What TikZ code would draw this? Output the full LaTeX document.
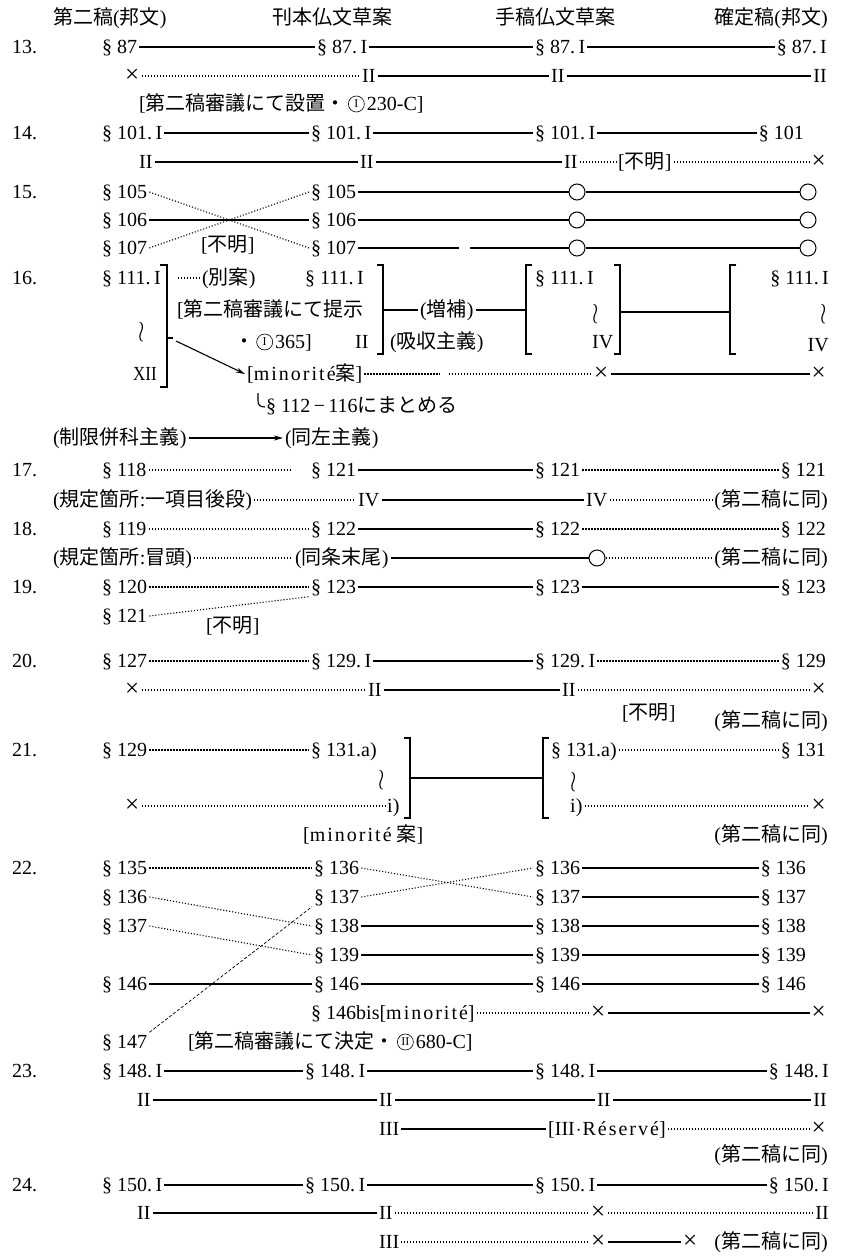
\documentclass[tikz,border=0pt]{standalone}
\usepackage{fontspec}
\setmainfont{Liberation Serif}
\newfontfamily\jp{Noto Sans CJK JP}
\newfontfamily\ls[LetterSpace=10]{Liberation Serif}
\usetikzlibrary{calc,arrows.meta}
\newcommand\fs{\fontsize{20}{24}\selectfont}
\newcommand\J[1]{{\jp #1}}
\newcommand\Sc{\makebox[15pt][l]{§}}
\newcommand\X{{\fontsize{25}{25}\selectfont ×}}
\newcommand\wv{\raisebox{-1.5pt}{\scalebox{1.1}[1.4]{$\wr$}}}
\begin{document}
\begin{tikzpicture}[x=1pt,y=-1pt,
 T/.style={anchor=west,inner sep=2pt,font=\fs,text height=14pt,text depth=1pt},
 TR/.style={T,anchor=east},
 W/.style={anchor=center,inner sep=0pt,font=\fs},
 sl/.style={line width=1.1pt},
 dl/.style={line width=1.1pt,dash pattern=on 1.1pt off 1.9pt},
 ds/.style={line width=0.7pt,dash pattern=on 3pt off 2pt},
 ox/.style={circle,draw,line width=1pt,minimum size=16pt,inner sep=0pt},
 cc/.style={circle,draw,line width=0.6pt,inner sep=0.3pt,minimum size=16pt,anchor=west,font=\fontsize{12}{12}\selectfont},
 br/.style={line width=1.1pt}]
\useasboundingbox (0,0) rectangle (841,1258);
% headers
\node[T] (h1) at (51,18) {\J{第二稿}(\J{邦文})};
\node[T] (h2) at (270,18) {\J{刊本仏文草案}};
\node[T] (h3) at (493,18) {\J{手稿仏文草案}};
\node[TR] (h4) at (830,18) {\J{確定稿}(\J{邦文})};
% 13
\node[T] (n13) at (10,47) {13.};
\node[T] (a13) at (100,47) {\Sc87};
\node[T] (b13) at (315,47) {\Sc87.\,I};
\node[T] (c13) at (533,47) {\Sc87.\,I};
\node[TR] (d13) at (829,47) {\Sc87.\,I};
\draw[sl] (a13) -- (b13); \draw[sl] (b13) -- (c13); \draw[sl] (c13) -- (d13);
\node[T] (a13b) at (123,76) {\X};
\node[T] (b13b) at (360,76) {II};
\node[T] (c13b) at (549,76) {II};
\node[TR] (d13b) at (829,76) {II};
\draw[dl] (a13b) -- (b13b); \draw[sl] (b13b) -- (c13b); \draw[sl] (c13b) -- (d13b);
\node[T] (k13a) at (137,104) {[\J{第二稿審議にて設置・}};
\node[cc] (k13b) at (k13a.east) {I};
\node[T] (k13c) at (k13b.east) {230-C]};
% 14
\node[T] (n14) at (10,133) {14.};
\node[T] (a14) at (100,133) {\Sc101.\,I};
\node[T] (b14) at (309,133) {\Sc101.\,I};
\node[T] (c14) at (533,133) {\Sc101.\,I};
\node[TR] (d14) at (806,133) {\Sc101};
\draw[sl] (a14) -- (b14); \draw[sl] (b14) -- (c14); \draw[sl] (c14) -- (d14);
\node[T] (a14b) at (137,162) {II};
\node[T] (b14b) at (358,162) {II};
\node[T] (c14b) at (562,162) {II};
\node[T] (u14) at (616,162) {[\J{不明}]};
\node[TR] (d14b) at (828,162) {\X};
\draw[sl] (a14b) -- (b14b); \draw[sl] (b14b) -- (c14b); \draw[dl] (c14b) -- (u14); \draw[dl] (u14) -- (d14b);
% 15
\node[T] (n15) at (10,192) {15.};
\node[T] (a15a) at (100,192) {\Sc105};
\node[T] (a15b) at (100,220) {\Sc106};
\node[T] (a15c) at (100,248) {\Sc107};
\node[T] (b15a) at (309,192) {\Sc105};
\node[T] (b15b) at (309,220) {\Sc106};
\node[T] (b15c) at (309,248) {\Sc107};
\node[ox] (c15a) at (577,192) {};
\node[ox] (c15b) at (577,220) {};
\node[ox] (c15c) at (577,248) {};
\node[ox] (d15a) at (808,192) {};
\node[ox] (d15b) at (808,220) {};
\node[ox] (d15c) at (808,248) {};
\node[T] (u15) at (199,245) {[\J{不明}]};
\draw[dl] (a15a.east) -- (b15c.west);
\draw[dl] (a15c.east) -- (b15a.west);
\draw[sl] (a15b) -- (b15b);
\draw[sl] (b15a) -- (c15a); \draw[sl] (c15a) -- (d15a);
\draw[sl] (b15b) -- (c15b); \draw[sl] (c15b) -- (d15b);
\draw[sl] (b15c.east) -- ($(b15c.east)!0.48!(c15c.west)$);
\draw[sl] ($(b15c.east)!0.53!(c15c.west)$) -- (c15c.west);
\draw[sl] (c15c) -- (d15c);
% 16
\node[T] (n16) at (10,278) {16.};
\node[T] (a16) at (100,278) {\Sc111.\,I};
\node[W] (a16w) at (142,332) {\wv};
\node[T] (a16x) at (131,374) {\scalebox{0.85}[1]{XII}};
\draw[br] (160,265) -- (167,265) -- (167,387) -- (160,387);
\draw[br] (167,338) -- (173,338);
\coordinate (a16d) at (178,278);
\node[T] (a16alt) at (200,278) {(\J{別案})};
\draw[dl] (a16d) -- (a16alt);
\node[T] (k16a) at (175,310) {[\J{第二稿審議にて提示}};
\node[T] (k16b) at (232,342) {\J{・}};
\node[cc] (k16c) at (k16b.east) {I};
\node[T] (k16d) at (k16c.east) {365]};
\node[T] (b16) at (303,278) {\Sc111.\,I};
\node[T] (b16x) at (353,342) {II};
\draw[br] (377,265) -- (383,265) -- (383,354) -- (377,354);
\coordinate (b16m) at (383,310);
\node[T] (b16aug) at (418,310) {(\J{増補})};
\node[T] (b16abs) at (388,342) {(\J{吸収主義})};
\draw[br] (532,265) -- (526,265) -- (526,354) -- (532,354);
\coordinate (c16m) at (526,310);
\draw[sl] (b16m) -- (b16aug); \draw[sl] (b16aug) -- (c16m);
\node[T] (c16) at (533,278) {\Sc111.\,I};
\node[W] (c16w) at (596,314) {\wv};
\node[T] (c16x) at (590,342) {IV};
\draw[br] (614,265) -- (620,265) -- (620,354) -- (614,354);
\coordinate (c16r) at (620,312);
\draw[br] (736,265) -- (730,265) -- (730,354) -- (736,354);
\coordinate (d16l) at (730,312);
\draw[sl] (c16r) -- (d16l);
\node[TR] (d16) at (831,278) {\Sc111.\,I};
\node[W] (d16w) at (824,314) {\wv};
\node[TR] (d16x) at (831,345) {IV};
\coordinate (a16t) at (176,341);
\node[T] (b16min) at (245,374) {[{\ls minorité}\J{案}]};
\draw[sl,-{Stealth[length=9pt,width=5pt]}] (a16t) -- (b16min.west);
\node[T] (c16xx) at (592,374) {\X};
\node[TR] (d16xx) at (828,374) {\X};
\draw[dl] (b16min.east) -- ($(b16min.east)!0.33!(c16xx.west)$);
\draw[dl] ($(b16min.east)!0.37!(c16xx.west)$) -- (c16xx.west);
\draw[sl] (c16xx) -- (d16xx);
\draw[sl] (258,393) -- (258,401) .. controls (258,405) and (260,407) .. (265,407);
\node[T] (b16sum) at (264,406) {\Sc112\,−\,116\J{にまとめる}};
\node[T] (p17a) at (51,438) {(\J{制限併科主義})};
\node[T] (p17b) at (283,438) {(\J{同左主義})};
\draw[sl,-{Stealth[length=9pt,width=5pt]}] (p17a) -- (p17b);
% 17
\node[T] (n17) at (10,470) {17.};
\node[T] (a17) at (100,470) {\Sc118};
\node[T] (b17) at (309,470) {\Sc121};
\node[T] (c17) at (533,470) {\Sc121};
\node[TR] (d17) at (828,470) {\Sc121};
\draw[dl,shorten >=18pt] (a17) -- (b17); \draw[sl] (b17) -- (c17); \draw[dl] (c17) -- (d17);
\node[T] (a17b) at (51,500) {(\J{規定箇所}:\J{一項目後段})};
\node[T] (b17b) at (356,500) {IV};
\node[T] (c17b) at (584,500) {IV};
\node[TR] (d17b) at (830,500) {(\J{第二稿に同})};
\draw[dl] (a17b) -- (b17b); \draw[sl] (b17b) -- (c17b); \draw[dl] (c17b) -- (d17b);
% 18
\node[T] (n18) at (10,529) {18.};
\node[T] (a18) at (100,529) {\Sc119};
\node[T] (b18) at (309,529) {\Sc122};
\node[T] (c18) at (533,529) {\Sc122};
\node[TR] (d18) at (828,529) {\Sc122};
\draw[dl] (a18) -- (b18); \draw[sl] (b18) -- (c18); \draw[dl] (c18) -- (d18);
\node[T] (a18b) at (51,558) {(\J{規定箇所}:\J{冒頭})};
\node[T] (b18b) at (293,558) {(\J{同条末尾})};
\node[ox] (c18b) at (597,558) {};
\node[TR] (d18b) at (830,558) {(\J{第二稿に同})};
\draw[dl] (a18b) -- (b18b); \draw[sl] (b18b) -- (c18b); \draw[dl] (c18b) -- (d18b);
% 19
\node[T] (n19) at (10,587) {19.};
\node[T] (a19) at (100,587) {\Sc120};
\node[T] (a19b) at (100,616) {\Sc121};
\node[T] (b19) at (309,587) {\Sc123};
\node[T] (c19) at (533,587) {\Sc123};
\node[TR] (d19) at (828,587) {\Sc123};
\node[T] (u19) at (204,626) {[\J{不明}]};
\draw[dl] (a19) -- (b19); \draw[dl] (a19b.east) -- (b19.south west);
\draw[sl] (b19) -- (c19); \draw[sl] (c19) -- (d19);
% 20
\node[T] (n20) at (10,661) {20.};
\node[T] (a20) at (100,661) {\Sc127};
\node[T] (b20) at (309,661) {\Sc129.\,I};
\node[T] (c20) at (533,661) {\Sc129.\,I};
\node[TR] (d20) at (828,661) {\Sc129};
\draw[dl] (a20) -- (b20); \draw[sl] (b20) -- (c20); \draw[dl] (c20) -- (d20);
\node[T] (a20b) at (123,690) {\X};
\node[T] (b20b) at (366,690) {II};
\node[T] (c20b) at (560,690) {II};
\node[TR] (d20b) at (828,690) {\X};
\draw[dl] (a20b) -- (b20b); \draw[sl] (b20b) -- (c20b); \draw[dl] (c20b) -- (d20b);
\node[T] (u20) at (620,713) {[\J{不明}]};
\node[TR] (s20) at (830,721) {(\J{第二稿に同})};
% 21
\node[T] (n21) at (10,750) {21.};
\node[T] (a21) at (100,750) {\Sc129};
\node[T] (b21) at (309,750) {\Sc131.a)};
\node[W] (b21w) at (382,780) {\wv};
\node[T] (b21i) at (385,806) {i)};
\node[T] (a21b) at (123,806) {\X};
\draw[br] (404,738) -- (410,738) -- (410,818) -- (404,818);
\coordinate (b21m) at (410,778);
\draw[br] (549,738) -- (543,738) -- (543,818) -- (549,818);
\coordinate (c21m) at (543,778);
\draw[sl] (b21m) -- (c21m);
\node[T] (c21) at (549,750) {\Sc131.a)};
\node[W] (c21w) at (574,782) {\wv};
\node[T] (c21i) at (568,806) {i)};
\node[TR] (d21) at (828,750) {\Sc131};
\node[TR] (d21b) at (828,806) {\X};
\draw[dl] (a21) -- (b21); \draw[dl] (a21b) -- (b21i);
\draw[dl] (c21) -- (d21); \draw[dl] (c21i) -- (d21b);
\node[T] (m21) at (301,835) {[{\ls minorité} \J{案}]};
\node[TR] (s21) at (830,835) {(\J{第二稿に同})};
% 22
\node[T] (n22) at (10,868) {22.};
\node[T] (a22a) at (100,868) {\Sc135};
\node[T] (a22b) at (100,897) {\Sc136};
\node[T] (a22c) at (100,926) {\Sc137};
\node[T] (a22e) at (100,984) {\Sc146};
\node[T] (a22g) at (100,1042) {\Sc147};
\node[T] (b22a) at (312,868) {\Sc136};
\node[T] (b22b) at (312,897) {\Sc137};
\node[T] (b22c) at (312,926) {\Sc138};
\node[T] (b22d) at (312,955) {\Sc139};
\node[T] (b22e) at (312,984) {\Sc146};
\node[T] (b22f) at (309,1013) {\Sc146bis[{\ls minorité}]};
\node[T] (c22a) at (533,868) {\Sc136};
\node[T] (c22b) at (533,897) {\Sc137};
\node[T] (c22c) at (533,926) {\Sc138};
\node[T] (c22d) at (533,955) {\Sc139};
\node[T] (c22e) at (533,984) {\Sc146};
\node[T] (c22f) at (589,1013) {\X};
\node[TR] (d22a) at (808,868) {\Sc136};
\node[TR] (d22b) at (808,897) {\Sc137};
\node[TR] (d22c) at (808,926) {\Sc138};
\node[TR] (d22d) at (808,955) {\Sc139};
\node[TR] (d22e) at (808,984) {\Sc146};
\node[TR] (d22f) at (828,1013) {\X};
\node[T] (k22a) at (186,1042) {[\J{第二稿審議にて決定・}};
\node[cc] (k22b) at (k22a.east) {II};
\node[T] (k22c) at (k22b.east) {680-C]};
\draw[dl] (a22a) -- (b22a);
\draw[dl] (b22a.east) -- (c22b.west);
\draw[dl] (b22b.east) -- (c22a.west);
\draw[dl] (a22b.east) -- (b22c.west);
\draw[dl] (a22c.east) -- (b22d.west);
\draw[sl] (a22e) -- (b22e);
\draw[ds] (a22g.north east) -- (b22b.south west);
\draw[sl] (b22c) -- (c22c); \draw[sl] (b22d) -- (c22d); \draw[sl] (b22e) -- (c22e);
\draw[sl] (c22a) -- (d22a); \draw[sl] (c22b) -- (d22b); \draw[sl] (c22c) -- (d22c);
\draw[sl] (c22d) -- (d22d); \draw[sl] (c22e) -- (d22e);
\draw[dl] (b22f) -- (c22f); \draw[sl] (c22f) -- (d22f);
% 23
\node[T] (n23) at (10,1071) {23.};
\node[T] (a23) at (100,1071) {\Sc148.\,I};
\node[T] (b23) at (303,1071) {\Sc148.\,I};
\node[T] (c23) at (533,1071) {\Sc148.\,I};
\node[TR] (d23) at (831,1071) {\Sc148.\,I};
\draw[sl] (a23) -- (b23); \draw[sl] (b23) -- (c23); \draw[sl] (c23) -- (d23);
\node[T] (a23b) at (135,1100) {II};
\node[T] (b23b) at (377,1100) {II};
\node[T] (c23b) at (595,1100) {II};
\node[TR] (d23b) at (829,1100) {II};
\draw[sl] (a23b) -- (b23b); \draw[sl] (b23b) -- (c23b); \draw[sl] (c23b) -- (d23b);
\node[T] (b23c) at (377,1129) {III};
\node[T] (c23c) at (546,1129) {[III\kern1pt$\cdot$\kern1pt{\ls Réservé}]};
\node[TR] (d23c) at (828,1129) {\X};
\draw[sl] (b23c) -- (c23c); \draw[dl] (c23c) -- (d23c);
\node[TR] (s23) at (830,1155) {(\J{第二稿に同})};
% 24
\node[T] (n24) at (10,1185) {24.};
\node[T] (a24) at (100,1185) {\Sc150.\,I};
\node[T] (b24) at (303,1185) {\Sc150.\,I};
\node[T] (c24) at (533,1185) {\Sc150.\,I};
\node[TR] (d24) at (831,1185) {\Sc150.\,I};
\draw[sl] (a24) -- (b24); \draw[sl] (b24) -- (c24); \draw[sl] (c24) -- (d24);
\node[T] (a24b) at (135,1213) {II};
\node[T] (b24b) at (377,1213) {II};
\node[T] (c24b) at (589,1213) {\X};
\node[TR] (d24b) at (831,1213) {II};
\draw[sl] (a24b) -- (b24b); \draw[dl] (b24b) -- (c24b); \draw[dl] (c24b) -- (d24b);
\node[T] (b24c) at (377,1242) {III};
\node[T] (c24c) at (589,1242) {\X};
\node[T] (e24c) at (681,1242) {\X};
\node[TR] (s24) at (830,1242) {(\J{第二稿に同})};
\draw[dl] (b24c) -- (c24c); \draw[sl] (c24c) -- (e24c);
\end{tikzpicture}
\end{document}
